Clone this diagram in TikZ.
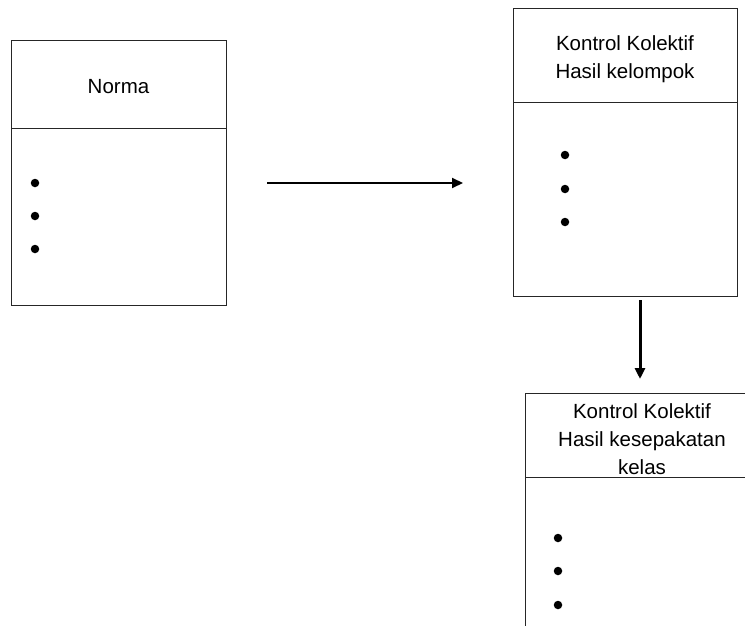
\documentclass[tikz,border=0pt]{standalone}
\usepackage{fontspec}
\setmainfont{Liberation Sans}
\usetikzlibrary{arrows.meta}
\begin{document}
\begin{tikzpicture}[x=1pt,y=-1pt,
  box/.style={draw=black!85,line width=1pt,rectangle,anchor=north west,inner sep=0pt},
  lbl/.style={inner sep=0pt,font=\fontsize{20.5}{28}\selectfont,align=center},
  dot/.style={circle,fill=black,inner sep=0pt,minimum size=8.5pt},
  conn/.style={-{Triangle[length=11pt,width=10pt]},black}]
\useasboundingbox (0,0) rectangle (745,626);
\clip (0,0) rectangle (745,626);
% Box 1
\node[box,minimum width=215pt,minimum height=88pt] (n1h) at (11,40) {};
\node[box,minimum width=215pt,minimum height=177pt] (n1b) at (11,128) {};
\node[lbl] (n1t) at (118.5,87) {Norma};
\node[dot] (n1d1) at (35,183) {};
\node[dot] (n1d2) at (35,216) {};
\node[dot] (n1d3) at (35,249) {};
% Box 2
\node[box,minimum width=224pt,minimum height=94pt] (n2h) at (513,8) {};
\node[box,minimum width=224pt,minimum height=194pt] (n2b) at (513,102) {};
\node[lbl] (n2t) at (625,59.5) {Kontrol Kolektif\\Hasil kelompok};
\node[dot] (n2d1) at (565,155) {};
\node[dot] (n2d2) at (565,189) {};
\node[dot] (n2d3) at (565,222) {};
% Box 3
\node[box,minimum width=234pt,minimum height=84pt] (n3h) at (525,393) {};
\node[box,minimum width=234pt,minimum height=180pt] (n3b) at (525,477) {};
\node[lbl] (n3t) at (642,439) {Kontrol Kolektif\\Hasil kesepakatan\\kelas};
\node[dot] (n3d1) at (558,538) {};
\node[dot] (n3d2) at (558,571) {};
\node[dot] (n3d3) at (558,605) {};
% Arrows
\coordinate (a1s) at (267,183);
\coordinate (a1e) at (463,183);
\draw[conn,line width=2pt] (a1s) -- (a1e);
\coordinate (a2s) at (640,300);
\coordinate (a2e) at (640,379);
\draw[conn,line width=3pt] (a2s) -- (a2e);
\end{tikzpicture}
\end{document}
